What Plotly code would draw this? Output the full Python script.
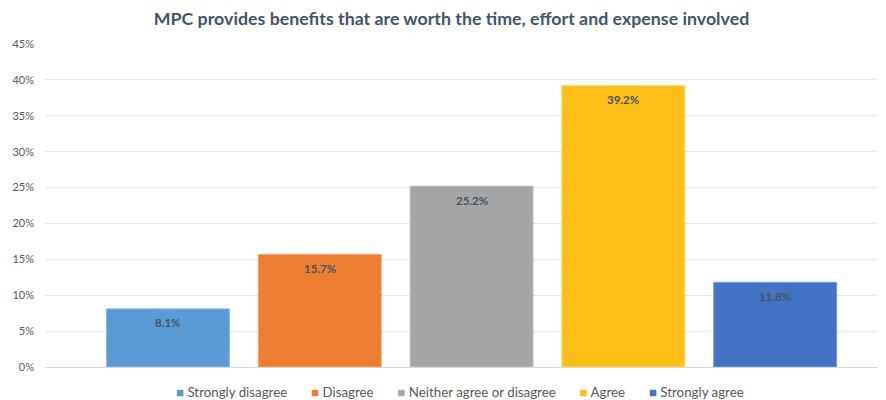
import plotly.graph_objects as go

categories = ["Strongly disagree", "Disagree", "Neither agree or disagree", "Agree", "Strongly agree"]
values = [0.081, 0.157, 0.252, 0.392, 0.118]
labels = ["8.1%", "15.7%", "25.2%", "39.2%", "11.8%"]
colors = ["#5B9BD5", "#ED7D31", "#A5A5A5", "#FCBF18", "#4472C4"]
borders = ["#8FBCE8", "#F4A574", "#C4C4C4", "#FFD766", "#7A9BD8"]
y_ticks = [0, 0.05, 0.10, 0.15, 0.20, 0.25, 0.30, 0.35, 0.40, 0.45]
y_tick_text = ["0%", "5%", "10%", "15%", "20%", "25%", "30%", "35%", "40%", "45%"]

fig = go.Figure()
for i, (c, v, col, bc) in enumerate(zip(categories, values, colors, borders)):
    fig.add_trace(go.Bar(
        x=[i], y=[v], name=c,
        marker=dict(color=col, line=dict(color=bc, width=1)),
        width=0.81, showlegend=False,
    ))

# data labels, anchored at each bar's top through the axes
for i, (v, lab) in enumerate(zip(values, labels)):
    fig.add_annotation(
        x=i, y=v, xref="x", yref="y", text=f"<b>{lab}</b>", showarrow=False,
        xanchor="center", yanchor="middle", yshift=-14,
        font=dict(family="Lato", size=11.5, color="#44546A"),
    )

sq = "\u25A0"
legend_text = ("\u00a0" * 7).join(
    f"<span style='color:{col}'>{sq}</span>\u00a0{c}" for c, col in zip(categories, colors)
)

fig.add_annotation(
    text=legend_text, xref="paper", yref="paper", x=0.493, y=-0.077,
    xanchor="center", yanchor="middle", showarrow=False,
    font=dict(family="Lato", size=13.3, color="#595959"),
)

fig.update_layout(
    width=878, height=392,
    margin=dict(l=37, r=0, t=36, b=33, autoexpand=False),
    paper_bgcolor="white", plot_bgcolor="white",
    barmode="overlay",
    title=dict(text="<b>MPC provides benefits that are worth the time, effort and expense involved</b>",
               x=0.5051, xanchor="center", y=0.972, yanchor="middle",
               font=dict(family="Lato", size=17.8, color="#44546A")),
    xaxis=dict(range=[-0.81, 4.73], showticklabels=False, showgrid=False,
               zeroline=False, showline=True, linecolor="#D9D9D9", linewidth=1, fixedrange=True),
    yaxis=dict(range=[0, 0.45], tickvals=y_ticks, ticktext=y_tick_text,
               showgrid=True, gridcolor="#E6E6E6", gridwidth=1, zeroline=False,
               tickfont=dict(family="Lato", size=11, color="#595959"), ticks="",
               ticklabelstandoff=10),
    showlegend=False,
)
fig.write_html("out.html")
